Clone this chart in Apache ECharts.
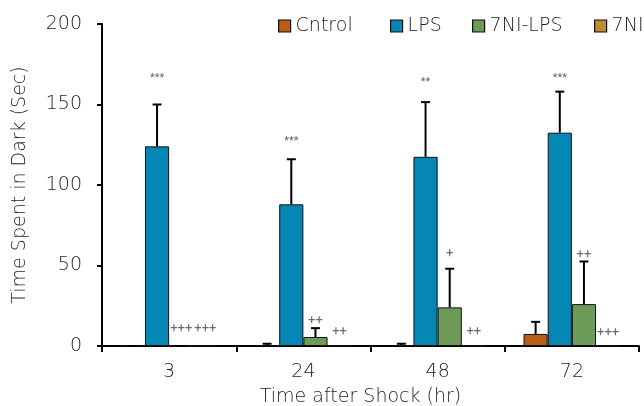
<!DOCTYPE html>
<html>
<head>
<meta charset="utf-8">
<script src="https://cdn.jsdelivr.net/npm/echarts@6/dist/echarts.min.js"></script>
<style>
html,body{margin:0;padding:0;background:#fff;}
#c{width:644px;height:406px;}
</style>
</head>
<body>
<div id="c"></div>
<script>
const categories = ['3', '24', '48', '72'];
const seriesNames = ['Cntrol', 'LPS', '7NI-LPS', '7NI'];
const colors = ['#b95d17', '#0587b5', '#6e9a59', '#c18a34'];

const controlVals = [0, 0.6, 0.6, 7.5];
const lpsVals = [124, 88, 117.5, 132.5];
const niLpsVals = [0, 5.6, 24, 26];
const niVals = [0, 0, 0, 0];

const controlErr = [0, 0.8, 0.8, 7.5];
const lpsErr = [26, 28, 34, 25.5];
const niLpsErr = [0, 5.5, 24, 26.5];
const niErr = [null, null, null, null];

const lpsMarks = ['***', '***', '**', '***'];
const lpsMarkY = [166.5, 127, 164, 166.5];
const niLpsMarks = ['+++', '++', '+', '++'];
const niLpsMarkY = [10.5, 15.5, 57, 56.5];
const niMarks = ['+++', '++', '++', '+++'];
const niMarkY = [10.5, 8.7, 8.9, 8];

const yTicks = [0, 50, 100, 150, 200];

const FONT = '"DejaVu Sans", sans-serif';
const MARKFONT = 'Roboto, sans-serif';
const TXT = '#1e1e1e';
const FS = 19;
const FW = 300;
const GAP = 0.28;

const allVals = [controlVals, lpsVals, niLpsVals, niVals];
const allErr = [controlErr, lpsErr, niLpsErr, niErr];

const errData = [];
allVals.forEach((vals, s) => {
  vals.forEach((v, c) => {
    const e = allErr[s][c];
    if (e !== null) errData.push([c, v, e, s]);
  });
});

const markTexts = [];
const markData = [];
[[lpsMarks, lpsMarkY, 1], [niLpsMarks, niLpsMarkY, 2], [niMarks, niMarkY, 3]].forEach(([txts, ys, s]) => {
  txts.forEach((t, c) => {
    markData.push([c, ys[c], s]);
    markTexts.push(t);
  });
});

function barX(api, c, s) {
  const center = api.coord([c, 0])[0];
  const band = api.size([1, 0])[0];
  const w = band * (1 - GAP) / 4;
  return center + (s - 1.5) * w;
}

const chart = echarts.init(document.getElementById('c'), null, {renderer: 'canvas'});

const legends = seriesNames.map((n, i) => ({
  data: [n],
  left: [278, 390, 472, 594][i],
  top: 16.5,
  padding: 0,
  itemWidth: 12,
  itemHeight: 12,
  itemGap: 0,
  icon: 'rect',
  itemStyle: {borderColor: '#111', borderWidth: 1.2},
  textStyle: {fontFamily: FONT, fontSize: FS, color: TXT, fontWeight: FW},
  selectedMode: false
}));

const barSeries = seriesNames.map((n, i) => ({
  name: n,
  type: 'bar',
  data: allVals[i],
  barGap: '0%',
  barCategoryGap: (GAP * 100) + '%',
  itemStyle: {color: colors[i], borderColor: '#111', borderWidth: 1},
  emphasis: {disabled: true},
  z: 2
}));

chart.setOption({
  animation: false,
  backgroundColor: '#fff',
  legend: legends,
  grid: {left: 102, right: 5, top: 24, bottom: 60, containLabel: false, outerBoundsMode: 'none'},
  xAxis: {
    type: 'category',
    data: categories,
    name: 'Time after Shock (hr)',
    nameLocation: 'middle',
    nameGap: 42,
    nameTextStyle: {fontFamily: FONT, fontSize: FS, color: TXT, fontWeight: FW, padding: [0, 20, 0, 0]},
    axisLine: {lineStyle: {color: '#000', width: 2}},
    axisTick: {show: true, length: 6, lineStyle: {color: '#000', width: 2}},
    axisLabel: {margin: 17, fontFamily: FONT, fontSize: FS, color: TXT, fontWeight: FW},
    splitLine: {show: false}
  },
  yAxis: {
    type: 'value',
    min: yTicks[0],
    max: yTicks[yTicks.length - 1],
    interval: 50,
    name: 'Time Spent in Dark (Sec)',
    nameLocation: 'middle',
    nameGap: 72,
    nameTextStyle: {fontFamily: FONT, fontSize: FS, color: TXT, fontWeight: FW},
    axisLine: {show: true, lineStyle: {color: '#000', width: 2}},
    axisTick: {show: true, length: 5, lineStyle: {color: '#000', width: 2}},
    axisLabel: {margin: 20, fontFamily: FONT, fontSize: FS, color: TXT, fontWeight: FW},
    splitLine: {show: false}
  },
  series: barSeries.concat([
    {
      type: 'custom',
      name: 'err',
      data: errData,
      z: 3,
      silent: true,
      renderItem: function (params, api) {
        const c = api.value(0), v = api.value(1), e = api.value(2), s = api.value(3);
        const x = barX(api, c, s);
        const y0 = api.coord([c, v])[1];
        const y1 = api.coord([c, v + e])[1];
        const capW = 4.5;
        const st = {stroke: '#000', lineWidth: 2};
        return {
          type: 'group',
          children: [
            {type: 'line', shape: {x1: x, y1: y0, x2: x, y2: y1}, style: st},
            {type: 'line', shape: {x1: x - capW, y1: y1, x2: x + capW, y2: y1}, style: st}
          ]
        };
      }
    },
    {
      type: 'custom',
      name: 'marks',
      data: markData,
      z: 4,
      silent: true,
      renderItem: function (params, api) {
        const c = api.value(0), y = api.value(1), s = api.value(2);
        const x = barX(api, c, s);
        const p = api.coord([c, y]);
        const t = markTexts[params.dataIndex];
        const isStar = t.indexOf('*') >= 0;
        return {
          type: 'text',
          x: x,
          y: p[1],
          style: {
            text: t,
            fontFamily: MARKFONT,
            fontSize: isStar ? 11 : 13,
            fill: '#6a6a6a',
            align: 'center',
            verticalAlign: 'middle'
          }
        };
      }
    }
  ])
});
</script>
</body>
</html>
